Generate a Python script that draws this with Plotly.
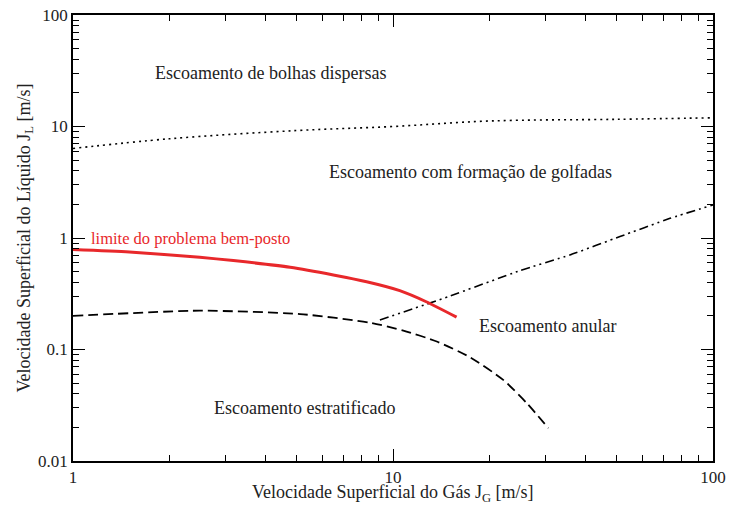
import math
import plotly.graph_objects as go

# Dispersed-bubble boundary (dotted)
jg_bubble = [1, 2, 5, 10, 20, 50, 100]
jl_bubble = [6.35, 7.76, 9.2, 10.0, 11.2, 11.6, 11.97]

# Well-posedness limit (red)
jg_limit = [1, 1.5, 2.49, 3.17, 4.77, 6.51, 8.27, 10.5, 12.7, 15.8]
jl_limit = [0.79, 0.75, 0.671, 0.627, 0.546, 0.466, 0.405, 0.337, 0.268, 0.195]

# Stratified boundary (dashed)
jg_strat = [1, 2.49, 5.12, 8.47, 10.77, 13.7, 17.4, 22.1, 26.2, 30.6]
jl_strat = [0.20, 0.223, 0.208, 0.174, 0.148, 0.118, 0.0853, 0.0534, 0.033, 0.0197]

# Annular boundary (dash-dot-dot)
jg_annular = [9.1, 15, 24.9, 35.7, 51.2, 73.4, 100]
jl_annular = [0.184, 0.30, 0.509, 0.704, 1.03, 1.5, 1.98]

x_ticks = [1, 10, 100]
x_ticklabels = ["1", "10", "100"]
y_ticks = [0.01, 0.1, 1, 10, 100]
y_ticklabels = ["0.01", "0.1", "1", "10", "100"]

FONT = '"Liberation Serif", "Times New Roman", Times, serif'

fig = go.Figure()
fig.add_trace(go.Scatter(x=jg_bubble, y=jl_bubble, mode="lines",
                         line=dict(color="black", width=1.6, dash="2px,4px", shape="spline")))
fig.add_trace(go.Scatter(x=jg_strat, y=jl_strat, mode="lines",
                         line=dict(color="black", width=1.8, dash="10px,5px", shape="spline", smoothing=0.6)))
fig.add_trace(go.Scatter(x=jg_annular, y=jl_annular, mode="lines",
                         line=dict(color="black", width=1.6, dash="9px,4px,2px,4px,2px,4px",
                                   shape="spline", smoothing=0.5)))
fig.add_trace(go.Scatter(x=jg_limit, y=jl_limit, mode="lines",
                         line=dict(color="#e8282b", width=3, shape="spline", smoothing=0.6)))

minor_vals = []
for d in [0.01, 0.1, 1, 10]:
    for k in range(2, 10):
        minor_vals.append(round(d * k, 6))

def ann(x, y, text, color="#222", anchor="center", size=18):
    fig.add_annotation(x=math.log10(x), y=math.log10(y), text=text, showarrow=False,
                       xanchor=anchor, yanchor="middle",
                       font=dict(family=FONT, size=size, color=color))

ann(4.13, 29.9, "Escoamento de bolhas dispersas")
ann(17.5, 3.87, "Escoamento com formação de golfadas")
ann(1.12, 1.0, "limite do problema bem-posto", color="#e8282b", anchor="left", size=16.5)
ann(30.3, 0.163, "Escoamento anular")
ann(5.29, 0.0298, "Escoamento estratificado")

# x-axis title placed explicitly below the tick labels
fig.add_annotation(xref="paper", yref="paper", x=0.5, y=-0.0735, xanchor="center", yanchor="middle",
                   text="Velocidade Superficial do Gás J<sub>G</sub> [m/s]", showarrow=False,
                   font=dict(family=FONT, size=18, color="#222"))

axis_common = dict(showgrid=False, zeroline=False, showline=True, linecolor="black", linewidth=1.8,
                   mirror="ticks", ticks="inside", ticklen=12, tickwidth=1.3, tickcolor="black",
                   automargin=False,
                   tickfont=dict(family=FONT, size=17, color="#222"))

fig.update_xaxes(type="log", range=[0, 2], tickvals=x_ticks, ticktext=x_ticklabels,
                 minor=dict(ticks="inside", ticklen=6, tickwidth=1.1, tickcolor="black",
                            tickvals=minor_vals),
                 **axis_common)
fig.update_yaxes(type="log", range=[-2, 2], tickvals=y_ticks, ticktext=y_ticklabels,
                 minor=dict(ticks="inside", ticklen=6, tickwidth=1.1, tickcolor="black",
                            tickvals=minor_vals),
                 title=dict(text="Velocidade Superficial do Líquido J<sub>L</sub> [m/s]", standoff=3,
                            font=dict(family=FONT, size=18, color="#222")),
                 **axis_common)

fig.update_layout(width=729, height=505, margin=dict(l=73, r=16, t=15, b=44),
                  paper_bgcolor="white", plot_bgcolor="white", showlegend=False)

fig.write_html("out.html")
